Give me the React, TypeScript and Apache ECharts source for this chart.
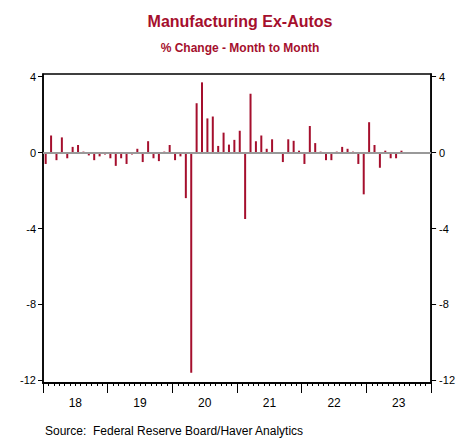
import React, { useEffect, useRef } from "react";
import * as echarts from "echarts";

const years = ["18", "19", "20", "21", "22", "23"];
const months: string[] = [];
for (const y of [2018, 2019, 2020, 2021, 2022, 2023]) {
  for (let m = 1; m <= 12; m++) months.push(`${y}-${String(m).padStart(2, "0")}`);
}

// % change month to month, Jan 2018 - Jul 2023
const values2018 = [-0.6, 0.9, -0.4, 0.8, -0.3, 0.3, 0.4, 0.05, -0.15, -0.4, -0.2, -0.1];
const values2019 = [-0.3, -0.7, -0.3, -0.6, -0.1, 0.2, -0.5, 0.6, -0.3, -0.45, 0.05, 0.4];
const values2020 = [-0.4, -0.2, -2.4, -11.6, 2.6, 3.7, 1.8, 1.9, 0.35, 1.05, 0.42, 0.67];
const values2021 = [1.15, -3.5, 3.1, 0.6, 0.9, 0.2, 0.7, -0.05, -0.5, 0.7, 0.62, 0.1];
const values2022 = [-0.6, 1.4, 0.5, 0.05, -0.4, -0.4, 0.05, 0.3, 0.2, 0.05, -0.6, -2.2];
const values2023 = [1.6, 0.4, -0.8, 0.1, -0.3, -0.3, 0.1];

const values = [...values2018, ...values2019, ...values2020, ...values2021, ...values2022, ...values2023];

const yTicks = [-12, -8, -4, 0, 4];
const titleText = "Manufacturing Ex-Autos";
const subtitleText = "% Change - Month to Month";
const sourceText = "Source:  Federal Reserve Board/Haver Analytics";

const FONT = 'Arial, "Liberation Sans", sans-serif';
const RED = "#A50F2D";

export default function App() {
  const ref = useRef<HTMLDivElement>(null);
  useEffect(() => {
    if (!ref.current) return;
    const chart = echarts.init(ref.current, null, { renderer: "svg" });
    const yAxisCommon = {
      type: "value" as const,
      min: -12.14,
      max: 4.14,
      splitLine: { show: false },
      axisLine: { show: true, lineStyle: { color: "#000", width: 1.5 } },
      axisTick: { show: true, length: 5, customValues: yTicks, lineStyle: { color: "#000", width: 1 } },
      axisLabel: { customValues: yTicks, color: "#000", fontSize: 11, fontFamily: FONT },
    };
    chart.setOption({
      animation: false,
      backgroundColor: "#fff",
      title: [
        {
          text: titleText,
          left: 240,
          top: 13,
          padding: 0,
          textAlign: "center",
          textStyle: { color: RED, fontSize: 16, fontWeight: "bold", fontFamily: FONT },
        },
        {
          text: subtitleText,
          left: 240,
          top: 42,
          padding: 0,
          textAlign: "center",
          textStyle: { color: RED, fontSize: 12, fontWeight: "bold", fontFamily: FONT },
        },
        {
          text: sourceText,
          left: 45,
          top: 425,
          padding: 0,
          textStyle: { color: "#000", fontSize: 12, fontWeight: "normal", fontFamily: FONT },
        },
      ],
      grid: {
        left: 43,
        right: 21,
        top: 74,
        bottom: 56,
        show: true,
        borderColor: "#000",
        borderWidth: 1.5,
      },
      xAxis: [
        {
          type: "category",
          data: months,
          position: "bottom",
          boundaryGap: true,
          axisLine: { show: true, onZero: false, lineStyle: { color: "#000", width: 1.5 } },
          axisTick: { show: true, interval: 0, length: 3, lineStyle: { color: "#000", width: 1 } },
          axisLabel: { show: false },
          splitLine: { show: false },
        },
        {
          type: "category",
          data: years,
          position: "bottom",
          boundaryGap: true,
          axisLine: { show: true, onZero: false, lineStyle: { color: "#000", width: 1.5 } },
          axisTick: { show: true, interval: 0, length: 10, lineStyle: { color: "#000", width: 1 } },
          axisLabel: { show: true, interval: 0, margin: 14, color: "#000", fontSize: 12, fontFamily: FONT },
          splitLine: { show: false },
        },
      ],
      yAxis: [
        { ...yAxisCommon, position: "left", axisLabel: { ...yAxisCommon.axisLabel, margin: 7 } },
        { ...yAxisCommon, position: "right", axisLabel: { ...yAxisCommon.axisLabel, margin: 8 } },
      ],
      series: [
        {
          type: "bar",
          xAxisIndex: 0,
          yAxisIndex: 0,
          data: values,
          barWidth: 2,
          itemStyle: { color: RED },
          markLine: {
            silent: true,
            symbol: "none",
            label: { show: false },
            lineStyle: { color: "#999", width: 2, type: "solid" },
            data: [{ yAxis: 0 }],
          },
        },
      ],
    });
    return () => chart.dispose();
  }, []);
  return (
    <div
      ref={ref}
      style={{ position: "absolute", left: 0, top: 0, width: 458, height: 439 }}
    />
  );
}
